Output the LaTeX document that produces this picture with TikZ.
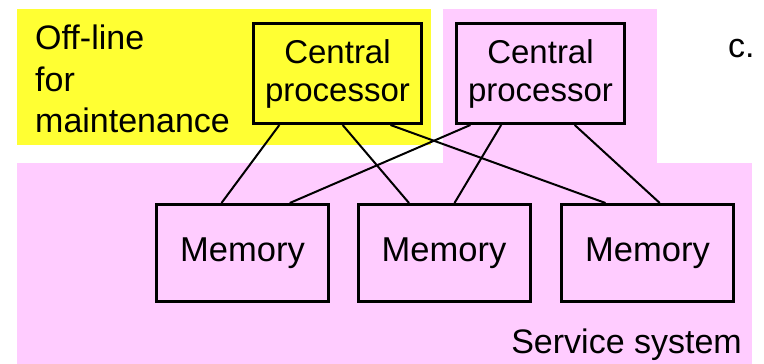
\documentclass[tikz,border=0pt]{standalone}
\usepackage{fontspec}
\setmainfont{Liberation Sans}
\usetikzlibrary{calc}
\definecolor{offyellow}{HTML}{FFFF33}
\definecolor{servpink}{HTML}{FFCCFF}
\tikzset{
  unitbox/.style={draw=black, line width=3pt, inner sep=0pt, align=center,
    font=\fontsize{33}{38}\selectfont},
  cpbox/.style={unitbox, minimum width=168pt, minimum height=100pt},
  membox/.style={unitbox, minimum width=172pt, minimum height=97pt,
    font=\fontsize{34.5}{38}\selectfont},
  bus/.style={draw=black, line width=2pt},
  label/.style={inner sep=0pt, font=\fontsize{34}{41.5}\selectfont}
}
\begin{document}
\begin{tikzpicture}[x=1pt, y=-1pt]
\useasboundingbox (0,0) rectangle (764,364);
% regions
\fill[white] (0,0) rectangle (764,364);
\fill[offyellow] (17,9) rectangle (431,145);
\fill[servpink] (443,9) rectangle (657,163);
\fill[servpink] (17,163) rectangle (752,364);
% units
\node[cpbox] (cp1) at (337.5,73.5) {Central\\processor};
\node[cpbox] (cp2) at (540.5,73.5) {Central\\processor};
\node[membox] (m1) at (242.5,253) {Memory};
\node[membox] (m2) at (444,253) {Memory};
\node[membox] (m3) at (647.5,253) {Memory};
% labels
\node[label, anchor=north west, align=left] (offline) at (35,25) {Off-line\\for\\maintenance};
\node[label, anchor=base east] (service) at (742,353) {Service system};
\node[label, anchor=base west] (tag) at (728,57) {c.};
% processor-to-memory links
\draw[bus] ($(cp1.south west)!0.16!(cp1.south east)$) -- ($(m1.north west)!0.38!(m1.north east)$);
\draw[bus] ($(cp1.south west)!0.53!(cp1.south east)$) -- ($(m2.north west)!0.30!(m2.north east)$);
\draw[bus] ($(cp1.south west)!0.81!(cp1.south east)$) -- ($(m3.north west)!0.26!(m3.north east)$);
\draw[bus] ($(cp2.south west)!0.09!(cp2.south east)$) -- ($(m1.north west)!0.77!(m1.north east)$);
\draw[bus] ($(cp2.south west)!0.27!(cp2.south east)$) -- ($(m2.north west)!0.56!(m2.north east)$);
\draw[bus] ($(cp2.south west)!0.70!(cp2.south east)$) -- ($(m3.north west)!0.57!(m3.north east)$);
\end{tikzpicture}
\end{document}
